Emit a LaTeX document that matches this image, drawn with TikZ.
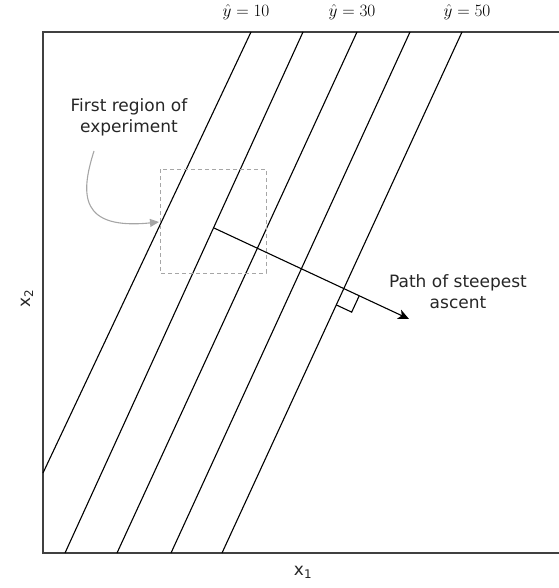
\documentclass[tikz,border=0pt]{standalone}
\usepackage{fontspec}
\newfontfamily\dejavu{DejaVu Sans}
\usetikzlibrary{arrows.meta,calc,intersections}
\begin{document}
\begin{tikzpicture}[x=1pt,y=-1pt,
  lbl/.style={font=\dejavu\fontsize{17}{21}\selectfont, align=center, inner sep=0pt, text=black!85},
  mlbl/.style={font=\fontsize{18}{21}\selectfont, inner sep=0pt},
  contour/.style={black, line width=1.1pt},
  axisline/.style={black!75, line width=1.5pt},
  regionbox/.style={gray!70, line width=1pt, dash pattern=on 4pt off 3pt},
  pointer/.style={gray!70, line width=1.1pt, -{Triangle[length=9pt,width=8pt]}},
  ascentarrow/.style={black, line width=1.1pt, -{Stealth[length=11pt,width=10pt,inset=3pt]}},
  rightangle/.style={black, line width=1.1pt}]
\useasboundingbox (0,0) rectangle (558,588);
% axes frame
\coordinate (tr) at (560,32);
\coordinate (tl) at (43,32);
\coordinate (bl) at (43,553);
\coordinate (br) at (560,553);
\draw[axisline] (tr) -- (tl) -- (bl) -- (br);
% contour lines
\coordinate (L1a) at (251,32); \coordinate (L1b) at (43,473);
\coordinate (L2a) at (303,32); \coordinate (L2b) at (65,553);
\coordinate (L3a) at (357,32); \coordinate (L3b) at (117,553);
\coordinate (L4a) at (410,32); \coordinate (L4b) at (171,553);
\coordinate (L5a) at (462,32); \coordinate (L5b) at (222,553);
\draw[contour] (L1a) -- (L1b);
\draw[contour] (L2a) -- (L2b);
\draw[contour] (L3a) -- (L3b);
\draw[contour] (L4a) -- (L4b);
\draw[contour, name path=l5] (L5a) -- (L5b);
% region of experiment
\coordinate (ra) at (160,169); \coordinate (rb) at (266,273);
\draw[regionbox] (ra) rectangle (rb);
% labels
\node[mlbl] (y10) at (246,12) {$\hat{y}=10$};
\node[mlbl] (y30) at (352,12) {$\hat{y}=30$};
\node[mlbl] (y50) at (467,12) {$\hat{y}=50$};
\node[lbl] (first) at (129,117) {First region of\\experiment};
\node[lbl] (path) at (458,292) {Path of steepest\\ascent};
\node[lbl] (x1) at (303,572) {x\textsubscript{1}};
\node[lbl, rotate=90] (x2) at (27,298) {x\textsubscript{2}};
% pointer arrow
\coordinate (ps) at (94,151);
\coordinate (pe) at (159,222);
\draw[pointer] (ps) .. controls (80,195) and (80,230) .. (pe);
% path of steepest ascent
\coordinate (as) at (214,228);
\coordinate (ae) at (409,319);
\draw[ascentarrow, name path=asc] (as) -- (ae);
\path[name intersections={of=l5 and asc, by=ix}];
\coordinate (q1) at ($(ix)!17pt!(ae)$);
\coordinate (q3) at ($(ix)!18pt!(L5b)$);
\coordinate (q2) at ($(q1)+(q3)-(ix)$);
\draw[rightangle] (q1) -- (q2) -- (q3);
\end{tikzpicture}
\end{document}
